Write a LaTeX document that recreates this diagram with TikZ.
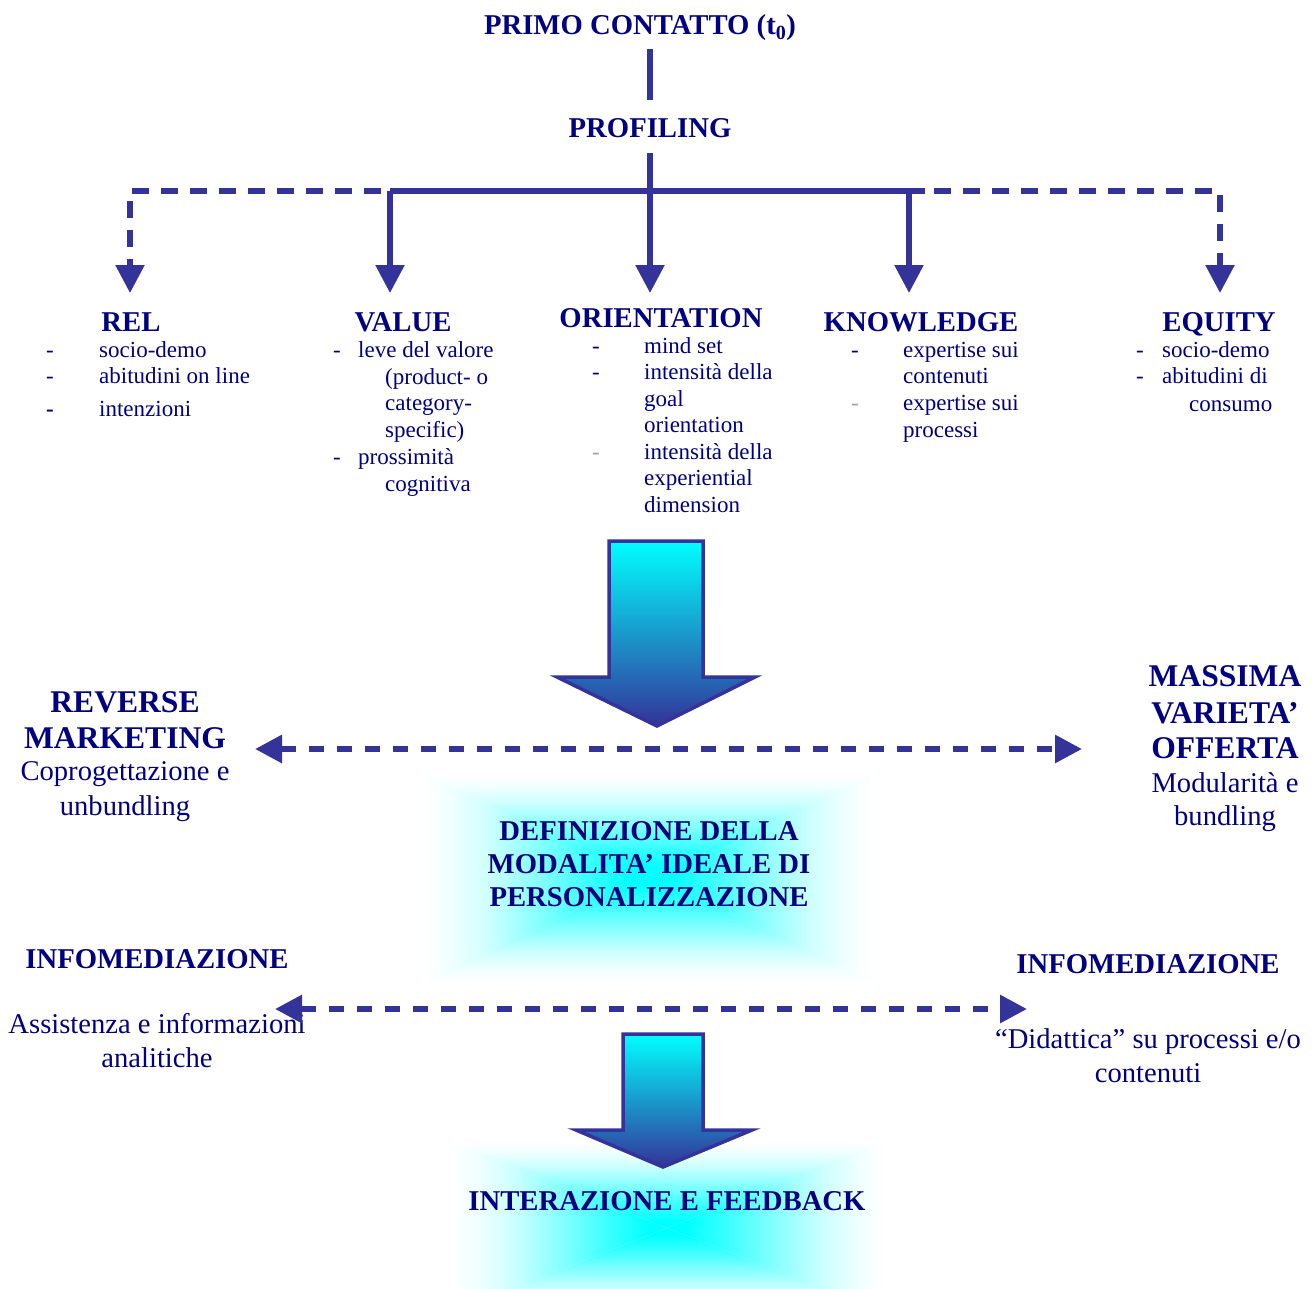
\documentclass[tikz,border=0pt]{standalone}
\usepackage{fontspec}
\setmainfont{Liberation Serif}
\usetikzlibrary{arrows.meta}
\definecolor{navy}{RGB}{0,0,128}
\definecolor{lineblue}{RGB}{51,51,153}
\definecolor{dashgray}{RGB}{160,160,178}
\definecolor{glowcyan}{RGB}{0,255,255}
\definecolor{glowa}{RGB}{60,255,255}
\definecolor{glowb}{RGB}{135,255,255}
\definecolor{glowc}{RGB}{205,255,255}
\definecolor{glowd}{RGB}{240,255,255}
\pgfdeclareverticalshading{glowsh}{100bp}{color(0bp)=(glowcyan); color(25bp)=(glowcyan); color(29bp)=(glowcyan); color(39bp)=(glowa); color(50bp)=(glowb); color(61bp)=(glowc); color(69bp)=(glowd); color(75bp)=(white); color(100bp)=(white)}
\newcommand\myglow[6]{%
  \shade[shading=glowsh] (#5,#6) -- (#1,#2) -- (#3,#2) -- cycle;
  \shade[shading=glowsh, shading angle=180] (#5,#6) -- (#1,#4) -- (#3,#4) -- cycle;
  \shade[shading=glowsh, shading angle=90] (#5,#6) -- (#1,#2) -- (#1,#4) -- cycle;
  \shade[shading=glowsh, shading angle=-90] (#5,#6) -- (#3,#2) -- (#3,#4) -- cycle;
}
\begin{document}
\begin{tikzpicture}[x=1pt,y=-1pt,
  ttl/.style={font=\bfseries\fontsize{28.7}{33}\selectfont, text=navy, inner sep=0pt, anchor=base},
  bigttl/.style={font=\bfseries\fontsize{31.6}{37}\selectfont, text=navy, inner sep=0pt, anchor=base},
  itm/.style={font=\fontsize{23}{27}\selectfont, text=navy, inner sep=0pt, anchor=base west},
  gitm/.style={itm, text=dashgray},
  midtxt/.style={font=\fontsize{28.6}{34}\selectfont, text=navy, inner sep=0pt, anchor=base},
  solidline/.style={draw=lineblue, line width=5.5pt},
  conn/.style={solidline, -{Triangle[length=28pt,width=28pt]}},
  dconn/.style={conn, dash pattern=on 17pt off 12pt},
  dbl/.style={draw=lineblue, line width=6pt, dash pattern=on 15pt off 13pt,
     {Triangle[length=27pt,width=27pt]}-{Triangle[length=27pt,width=27pt]}},
  bigarrow/.style={draw=lineblue, line width=3.5pt, line join=miter,
     top color=glowcyan, bottom color=lineblue}
]
\useasboundingbox (0,0) rectangle (1316,1289);
\begin{scope}
  \clip (0,0) rectangle (1316,1289);
  \myglow{425}{775}{872}{982}{650}{875}
  \myglow{452}{1142}{884}{1312}{667}{1228}
\end{scope}

% top
\node[ttl] (primo) at (640,35) {PRIMO CONTATTO (t\textsubscript{0})};
\node[ttl] (prof) at (650,138) {PROFILING};

\coordinate (jl) at (130,191);
\coordinate (jv) at (390,191);
\coordinate (jk) at (909,191);
\coordinate (js) at (925,191);
\coordinate (jr) at (1220,191);
\coordinate (tl) at (130,293);
\coordinate (tv) at (390,293);
\coordinate (to) at (650,293);
\coordinate (tk) at (909,293);
\coordinate (tr) at (1220,293);

\draw[solidline] ([yshift=-8pt]primo.south -| prof.north) -- ([yshift=19pt]prof.north);
\draw[conn] ([yshift=-15pt]prof.south) -- (to);
\draw[solidline] (jv) -- (js);
\draw[dconn, dash phase=20pt] (jv) -- (jl) -- (tl);
\draw[dconn, dash phase=20pt] (js) -- (jr) -- (tr);
\draw[conn] (jv) -- (tv);
\draw[conn] (jk) -- (tk);

% titles
\node[ttl] (trel) at (131,331) {REL};
\node[ttl] (tval) at (403,331) {VALUE};
\node[ttl] (tori) at (661,327) {ORIENTATION};
\node[ttl] (tknow) at (921,331) {KNOWLEDGE};
\node[ttl] (teq) at (1219,331) {EQUITY};

% REL items
\node[itm] (r1d) at (46,357) {-};
\node[itm] (r1) at (99,357) {socio-demo};
\node[itm] (r2d) at (46,383) {-};
\node[itm] (r2) at (99,383) {abitudini on line};
\node[itm, font=\bfseries\fontsize{23}{27}\selectfont] (r3d) at (46,416) {-};
\node[itm] (r3) at (99,416) {intenzioni};

% VALUE items
\node[itm] (v1d) at (333,357) {-};
\node[itm] (v1) at (358,357) {leve del valore};
\node[itm] (v2) at (385,384) {(product- o};
\node[itm] (v3) at (385,410) {category-};
\node[itm] (v4) at (385,437) {specific)};
\node[itm] (v5d) at (333,464) {-};
\node[itm] (v5) at (358,464) {prossimità};
\node[itm] (v6) at (385,491) {cognitiva};

% ORIENTATION items
\node[itm] (o1d) at (592,353) {-};
\node[itm] (o1) at (644,353) {mind set};
\node[itm] (o2d) at (592,379) {-};
\node[itm] (o2) at (644,379) {intensità della};
\node[itm] (o3) at (644,406) {goal};
\node[itm] (o4) at (644,432) {orientation};
\node[gitm] (o5d) at (592,459) {-};
\node[itm] (o5) at (644,459) {intensità della};
\node[itm] (o6) at (644,485) {experiential};
\node[itm] (o7) at (644,512) {dimension};

% KNOWLEDGE items
\node[itm] (k1d) at (851,357) {-};
\node[itm] (k1) at (903,357) {expertise sui};
\node[itm] (k2) at (903,383) {contenuti};
\node[gitm] (k3d) at (851,410) {-};
\node[itm] (k3) at (903,410) {expertise sui};
\node[itm] (k4) at (903,437) {processi};

% EQUITY items
\node[itm] (e1d) at (1136,357) {-};
\node[itm] (e1) at (1162,357) {socio-demo};
\node[itm] (e2d) at (1136,383) {-};
\node[itm] (e2) at (1162,383) {abitudini di};
\node[itm] (e3) at (1189,411) {consumo};

% big arrow 1
\draw[bigarrow] (609,541) -- (703,541) -- (703,677) -- (755,677) -- (657,726) -- (557,677) -- (609,677) -- cycle;

% reverse marketing / massima varieta
\node[bigttl] (rm1) at (125,712) {REVERSE};
\node[bigttl] (rm2) at (125,748) {MARKETING};
\node[midtxt] (rm3) at (125,780) {Coprogettazione e};
\node[midtxt] (rm4) at (125,815) {unbundling};

\node[bigttl] (mv1) at (1225,686) {MASSIMA};
\node[bigttl] (mv2) at (1225,723) {VARIETA’};
\node[bigttl] (mv3) at (1225,758) {OFFERTA};
\node[midtxt] (mv4) at (1225,792) {Modularità e};
\node[midtxt] (mv5) at (1225,825) {bundling};

\coordinate (da1) at (255,749);
\coordinate (db1) at (1082,749);
\draw[dbl] (da1) -- (db1);

% definizione
\node[ttl] (def1) at (649,840) {DEFINIZIONE DELLA};
\node[ttl] (def2) at (649,873) {MODALITA’ IDEALE DI};
\node[ttl] (def3) at (649,906) {PERSONALIZZAZIONE};

% infomediazione
\node[ttl] (inf1) at (157,968) {INFOMEDIAZIONE};
\node[midtxt] (inf1a) at (157,1033) {Assistenza e informazioni};
\node[midtxt] (inf1b) at (157,1067) {analitiche};
\node[ttl] (inf2) at (1148,973) {INFOMEDIAZIONE};
\node[midtxt] (inf2a) at (1148,1048) {“Didattica” su processi e/o};
\node[midtxt] (inf2b) at (1148,1082) {contenuti};

\coordinate (da2) at (275,1009);
\coordinate (db2) at (1027,1009);
\draw[dbl] (da2) -- (db2);

% big arrow 2
\draw[bigarrow] (623,1034) -- (703,1034) -- (703,1130) -- (752,1130) -- (663,1167) -- (576,1130) -- (623,1130) -- cycle;

\node[ttl] (inter) at (667,1210) {INTERAZIONE E FEEDBACK};
\end{tikzpicture}
\end{document}
